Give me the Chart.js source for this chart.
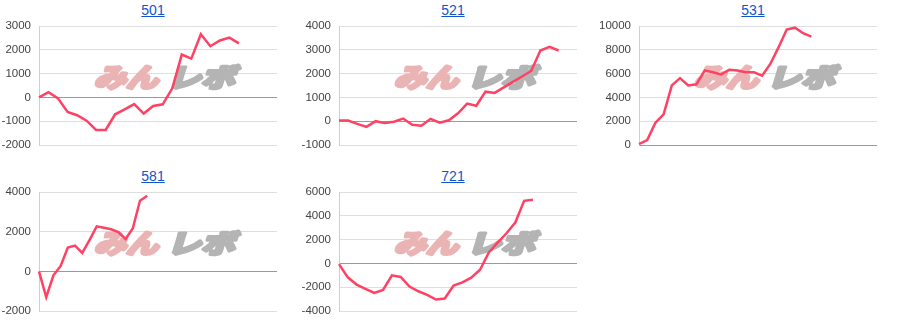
<!DOCTYPE html>
<html>
<head>
<meta charset="utf-8">
<script src="https://cdn.jsdelivr.net/npm/chart.js@4.4.1/dist/chart.umd.min.js"></script>
<style>
  body { margin: 0; background: #fff; width: 900px; height: 332px; overflow: hidden; position: relative;
         font-family: Arial, "Liberation Sans", sans-serif; }
  .panel { position: absolute; width: 300px; height: 166px; }
  .panel a { position: absolute; left: 3px; width: 300px; top: 2px; text-align: center;
             font-family: Arial, "Liberation Sans", sans-serif;
             font-size: 14px; line-height: 16px; color: #1155cc; text-decoration: underline; }
  .panel canvas { position: absolute; left: 0; top: 18px; }
</style>
</head>
<body>
<div id="grid"></div>
<script>
// --- data ---
const titles = ['501', '521', '531', '581', '721'];
// number of slots on the (hidden) x axis of each small chart
const slotCounts = [26, 27, 30, 34, 28];

const values501 = [0, 220, -40, -610, -750, -980, -1370, -1370, -710, -500, -280, -680, -360, -290, 380, 1800, 1630, 2650, 2150, 2390, 2510, 2270];
const values521 = [30, 30, -110, -240, 0, -80, -20, 110, -150, -190, 100, -60, 40, 330, 740, 650, 1240, 1190, 1420, 1650, 1880, 2110, 2970, 3120, 2970];
const values531 = [80, 420, 1880, 2580, 5010, 5620, 5010, 5100, 6260, 6120, 5930, 6320, 6260, 6120, 6120, 5820, 6810, 8200, 9700, 9860, 9390, 9110];
const values581 = [0, -1300, -200, 270, 1200, 1300, 930, 1570, 2270, 2200, 2120, 1980, 1630, 2160, 3560, 3810];
const values721 = [-60, -1170, -1780, -2140, -2480, -2230, -1000, -1140, -1950, -2340, -2650, -3040, -2950, -1870, -1590, -1200, -530, 920, 1750, 2530, 3430, 5260, 5350];

// y axis ranges: [min, max, step]
const yRanges = [[-2000, 3000, 1000], [-1000, 4000, 1000], [0, 10000, 2000], [-2000, 4000, 2000], [-4000, 6000, 2000]];

const seriesList = [values501, values521, values531, values581, values721];

// --- watermark drawn under the line ---
const watermark = {
  id: 'watermark',
  beforeDatasetsDraw(chart) {
    const ctx = chart.ctx;
    ctx.save();
    ctx.font = 'bold 26px "Noto Sans CJK JP", sans-serif';
    ctx.textBaseline = 'middle';
    ctx.lineJoin = 'round';
    const parts = [['みん', '#ebb4b4', 95, 64], ['レボ', '#b4b4b4', 168, 68]];
    for (const [txt, color, left, w] of parts) {
      const m = ctx.measureText(txt).width;
      ctx.setTransform(w / m, 0, -0.3, 1, left + 2, 59);
      ctx.fillStyle = color;
      ctx.strokeStyle = color;
      ctx.lineWidth = 3.5;
      ctx.strokeText(txt, 0, 0);
      ctx.fillText(txt, 0, 0);
    }
    ctx.restore();
  }
};

const grid = document.getElementById('grid');

seriesList.forEach((values, i) => {
  const panel = document.createElement('div');
  panel.className = 'panel';
  panel.style.left = (i % 3) * 300 + 'px';
  panel.style.top = Math.floor(i / 3) * 166 + 'px';

  const link = document.createElement('a');
  link.href = '#';
  link.textContent = titles[i];
  panel.appendChild(link);

  const canvas = document.createElement('canvas');
  canvas.width = 300;
  canvas.height = 140;
  panel.appendChild(canvas);
  grid.appendChild(panel);

  const slots = [];
  for (let k = 0; k < slotCounts[i]; k++) slots.push(String(k + 1));
  const [yMin, yMax, yStep] = yRanges[i];

  new Chart(canvas, {
    type: 'line',
    data: {
      labels: slots,
      datasets: [{
        data: values,
        borderColor: '#ff4163',
        borderWidth: 2.5,
        pointRadius: 0,
        tension: 0,
        fill: false
      }]
    },
    options: {
      responsive: false,
      animation: false,
      layout: { padding: { top: 8, bottom: 13, left: 0, right: 23 } },
      plugins: { legend: { display: false }, tooltip: { enabled: false } },
      scales: {
        x: { display: false },
        y: {
          min: yMin,
          max: yMax,
          afterFit(scale) {
            // fixed axis width; let the layout padding alone decide the plot top/bottom
            scale.width = 39;
            scale.paddingTop = 0;
            scale.paddingBottom = 0;
          },
          ticks: {
            stepSize: yStep,
            padding: 8,
            color: '#444',
            font: { family: 'Arial, "Liberation Sans", sans-serif', size: 11.5 },
            callback: v => String(v)
          },
          grid: {
            drawTicks: false,
            color: c => (c.tick && c.tick.value === 0 ? '#9a9a9a' : '#dedede')
          },
          border: { color: '#cfcfcf' }
        }
      }
    },
    plugins: [watermark]
  });
});
</script>
</body>
</html>
